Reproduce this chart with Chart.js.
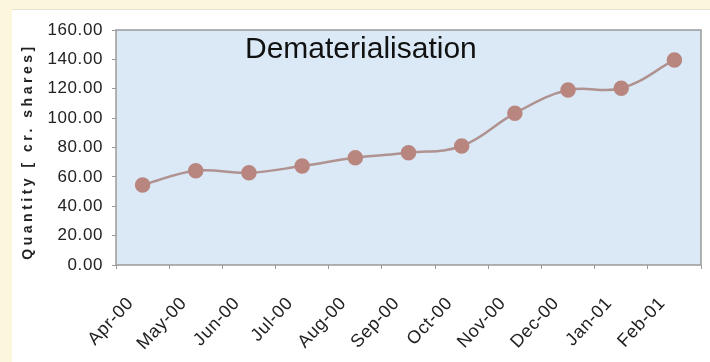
<!DOCTYPE html>
<html>
<head>
<meta charset="utf-8">
<script src="https://cdn.jsdelivr.net/npm/chart.js@4.4.1/dist/chart.umd.min.js"></script>
<style>
  html, body { margin: 0; padding: 0; }
  body { width: 710px; height: 362px; background: #fcf6dc; position: relative; overflow: hidden; }
  #panel { position: absolute; left: 12px; top: 9px; right: 0; bottom: 0; background: #ffffff; border-top: 1px solid #e6e2d2; }
  #wrap { position: absolute; left: 0; top: 0; width: 710px; height: 362px; }
</style>
</head>
<body>
<div id="panel"></div>
<div id="wrap"><canvas id="c" width="710" height="362"></canvas></div>
<script>
// Monthly dematerialised quantity (crore shares)
const months = ['Apr-00', 'May-00', 'Jun-00', 'Jul-00', 'Aug-00', 'Sep-00',
                'Oct-00', 'Nov-00', 'Dec-00', 'Jan-01', 'Feb-01'];
const quantity = [54.5, 64.2, 62.8, 67.4, 73.0, 76.4, 81.0, 103.3, 119.1, 120.3, 139.6];
const chartTitle = 'Dematerialisation';
const yTitle = 'Quantity [ cr. shares]';

const FONT = "'Liberation Sans', Arial, sans-serif";

// Plot-area fill and frame, plus the in-plot title and spaced axis title
const decor = {
  id: 'decor',
  beforeDraw(chart) {
    const { ctx, chartArea: a } = chart;
    ctx.save();
    ctx.fillStyle = '#dbe9f6';
    ctx.fillRect(a.left, a.top, a.right - a.left, a.bottom - a.top);
    ctx.restore();
    // slightly looser tracking for the tick labels
    ctx.letterSpacing = '0.6px';
  },
  beforeDatasetsDraw(chart) {
    const { ctx, chartArea: a } = chart;
    ctx.letterSpacing = '0px';
    ctx.save();
    ctx.strokeStyle = '#9a9a9a';
    ctx.lineWidth = 1.5;
    ctx.strokeRect(a.left, a.top, a.right - a.left, a.bottom - a.top);
    ctx.restore();
  },
  afterDraw(chart) {
    const { ctx, chartArea: a } = chart;
    ctx.save();
    ctx.fillStyle = '#111';
    ctx.font = `30px ${FONT}`;
    ctx.textAlign = 'left';
    ctx.textBaseline = 'alphabetic';
    ctx.fillText(chartTitle, 245, 58);

    ctx.translate(28, (a.top + a.bottom) / 2 + 4);
    ctx.rotate(-Math.PI / 2);
    ctx.font = `bold 14px ${FONT}`;
    ctx.fillStyle = '#222';
    ctx.letterSpacing = '3.5px';
    ctx.textAlign = 'center';
    ctx.textBaseline = 'middle';
    ctx.fillText(yTitle, 0, 0);
    ctx.restore();
  }
};

new Chart(document.getElementById('c'), {
  type: 'line',
  data: {
    labels: months,
    datasets: [{
      data: quantity,
      borderColor: '#b09390',
      borderWidth: 2.5,
      backgroundColor: '#b8867f',
      pointBackgroundColor: '#b8867f',
      pointBorderColor: '#b8867f',
      pointRadius: 6.5,
      pointHoverRadius: 6.5,
      tension: 0.4,
      fill: false
    }]
  },
  options: {
    responsive: false,
    animation: false,
    events: [],
    layout: { padding: { left: 0, top: 30, right: 2, bottom: 0 } },
    plugins: { legend: { display: false }, tooltip: { enabled: false }, title: { display: false } },
    scales: {
      x: {
        offset: true,
        afterFit(scale) {
          scale.height = 97;
          scale.paddingLeft = 0;
          scale.paddingRight = 0;
        },
        border: { display: false },
        grid: { offset: true, drawOnChartArea: false, drawTicks: true, tickLength: 4, color: '#9a9a9a', lineWidth: 1 },
        ticks: {
          autoSkip: false, minRotation: 47, maxRotation: 47,
          padding: 24, labelOffset: -12,
          color: '#222', font: { family: FONT, size: 18 }
        }
      },
      y: {
        min: 0, max: 160,
        afterFit(scale) {
          scale.width = 116;
          scale.paddingTop = 0;
          scale.paddingBottom = 0;
        },
        border: { display: false },
        grid: { drawOnChartArea: false, drawTicks: true, tickLength: 4, color: '#9a9a9a' },
        ticks: {
          stepSize: 20, padding: 9,
          color: '#222', font: { family: FONT, size: 17 },
          callback: v => v.toFixed(2)
        }
      }
    }
  },
  plugins: [decor]
});
</script>
</body>
</html>
